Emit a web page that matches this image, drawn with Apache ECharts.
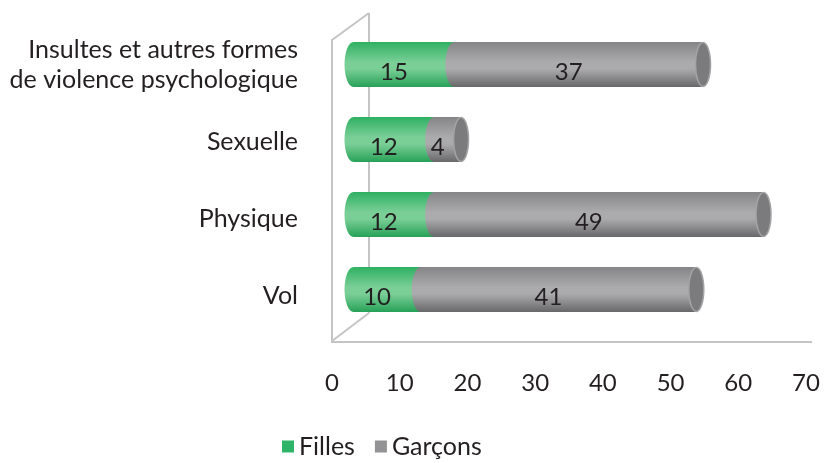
<!DOCTYPE html>
<html>
<head>
<meta charset="utf-8">
<script src="https://cdn.jsdelivr.net/npm/echarts@6/dist/echarts.min.js"></script>
<style>
  html, body { margin: 0; padding: 0; background: #ffffff; }
  #chart { width: 824px; height: 463px; }
</style>
</head>
<body>
<div id="chart"></div>
<script>
// Types de violence subie, par sexe
const categories = ['Insultes et autres formes\nde violence psychologique', 'Sexuelle', 'Physique', 'Vol'];
const filles = [15, 12, 12, 10];
const garcons = [37, 4, 49, 41];
const tickValues = [0, 10, 20, 30, 40, 50, 60, 70];

const FONT = 'Lato, "Open Sans", sans-serif';
const FS = 24;
const TEXT = '#231f20';
const WALL = '#c4c4c4';

function vGrad(top, mid, bottom) {
  return new echarts.graphic.LinearGradient(0, 0, 0, 1, [
    { offset: 0, color: top },
    { offset: 0.45, color: mid },
    { offset: 0.6, color: mid },
    { offset: 1, color: bottom }
  ]);
}
const greenFill = () => vGrad('#2fb062', '#7acf97', '#27a157');
const grayFill = () => vGrad('#858587', '#ababad', '#68686a');

// Horizontal cylinder segment: body + rounded left end, cap on the last segment.
// Value labels sit on the front face, a little left of and below the axis of the cylinder.
function cylinder(kind) {
  return function (params, api) {
    const cat = api.value(0);
    const start = api.value(1);
    const end = api.value(2);
    const p0 = api.coord([start, cat]);
    const p1 = api.coord([end, cat]);
    const h = api.size([0, 1])[1] * 0.6;
    const cy = p0[1];
    const ry = h / 2;
    const fill = kind === 'f' ? greenFill() : grayFill();
    const children = [];
    children.push({
      type: 'ellipse',
      shape: { cx: p0[0], cy: cy, rx: 9, ry: ry },
      style: { fill: fill }
    });
    children.push({
      type: 'rect',
      shape: { x: p0[0], y: cy - ry, width: Math.max(p1[0] - p0[0], 0), height: h },
      style: { fill: fill }
    });
    if (kind === 'g') {
      children.push({
        type: 'ellipse',
        shape: { cx: p1[0], cy: cy, rx: 7.5, ry: ry - 0.5 },
        style: { fill: '#7b7b7d', stroke: '#a3a3a5', lineWidth: 1.5 }
      });
    }
    children.push({
      type: 'text',
      style: {
        text: String(end - start),
        x: (p0[0] + p1[0]) / 2 - 10,
        y: cy + 8,
        align: 'center',
        verticalAlign: 'middle',
        fill: TEXT,
        font: FS + 'px ' + FONT
      }
    });
    return { type: 'group', children: children };
  };
}

const fillesData = filles.map((v, i) => [i, 0, v]);
const garconsData = garcons.map((v, i) => [i, filles[i], filles[i] + v]);

const chart = echarts.init(document.getElementById('chart'));
chart.setOption({
  backgroundColor: '#ffffff',
  animation: false,
  grid: [
    // front floor / wall with the value ticks
    { left: 332, width: 474, top: 40, height: 302 },
    // back wall where the cylinders sit
    { left: 353.5, width: 474.6, top: 27, height: 300 },
    // category labels
    { left: 332, width: 474, top: 26, height: 308 }
  ],
  xAxis: [
    {
      gridIndex: 0, type: 'value', min: tickValues[0], max: tickValues[tickValues.length - 1], interval: 10,
      axisLine: { show: true, lineStyle: { color: WALL, width: 2 } },
      axisTick: { show: false }, splitLine: { show: false },
      axisLabel: { color: TEXT, fontSize: FS, fontFamily: FONT, margin: 29 }
    },
    { gridIndex: 1, type: 'value', min: 0, max: 70, show: false },
    { gridIndex: 2, type: 'value', min: 0, max: 70, show: false }
  ],
  yAxis: [
    {
      gridIndex: 0, type: 'value', min: 0, max: 1,
      axisLine: { show: true, lineStyle: { color: WALL, width: 2 } },
      axisTick: { show: false }, axisLabel: { show: false }, splitLine: { show: false }
    },
    { gridIndex: 1, type: 'category', data: categories, inverse: true, show: false },
    {
      gridIndex: 2, type: 'category', data: categories, inverse: true,
      axisLine: { show: false }, axisTick: { show: false },
      axisLabel: { color: TEXT, fontSize: 25, fontFamily: FONT, margin: 34, lineHeight: 30, align: 'right' }
    }
  ],
  legend: {
    top: 434, left: 282, padding: 0,
    itemWidth: 12, itemHeight: 12, itemGap: 20,
    icon: 'rect',
    textStyle: { color: TEXT, fontSize: 25, fontFamily: FONT },
    data: ['Filles', 'Garçons']
  },
  graphic: [
    // back wall edge and the depth lines joining it to the front
    { type: 'line', shape: { x1: 369, y1: 13, x2: 369, y2: 313 }, style: { stroke: WALL, lineWidth: 2 }, silent: true },
    { type: 'line', shape: { x1: 332, y1: 40, x2: 369, y2: 13 }, style: { stroke: WALL, lineWidth: 2 }, silent: true },
    { type: 'line', shape: { x1: 332, y1: 341, x2: 369, y2: 313 }, style: { stroke: WALL, lineWidth: 2 }, silent: true },
    { type: 'line', shape: { x1: 806, y1: 342, x2: 812, y2: 342 }, style: { stroke: WALL, lineWidth: 2 }, silent: true }
  ],
  series: [
    {
      name: 'Filles', type: 'custom', xAxisIndex: 1, yAxisIndex: 1, z: 3,
      itemStyle: { color: '#2db469' },
      encode: { x: [1, 2], y: 0 },
      renderItem: cylinder('f'),
      data: fillesData
    },
    {
      name: 'Garçons', type: 'custom', xAxisIndex: 1, yAxisIndex: 1, z: 4,
      itemStyle: { color: '#939395' },
      encode: { x: [1, 2], y: 0 },
      renderItem: cylinder('g'),
      data: garconsData
    }
  ]
});
</script>
</body>
</html>
